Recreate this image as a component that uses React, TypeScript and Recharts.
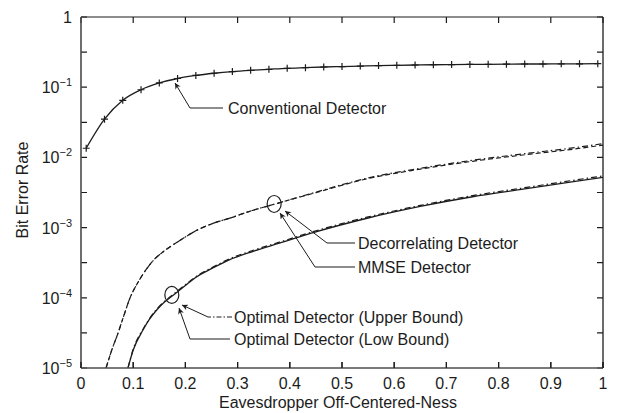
import { LineChart, Line, XAxis, YAxis, ReferenceDot, ReferenceLine } from 'recharts'

// values (x = off-centered-ness, y = BER)
const convX = [0.01, 0.045, 0.08, 0.115, 0.15, 0.185, 0.22, 0.255, 0.29, 0.325, 0.36, 0.395, 0.43, 0.465, 0.5, 0.535, 0.57, 0.605, 0.64, 0.675, 0.71, 0.745, 0.78, 0.815, 0.85, 0.885, 0.92, 0.955, 0.99]
const convY = [0.0135, 0.035, 0.065, 0.092, 0.115, 0.133, 0.147, 0.158, 0.167, 0.174, 0.18, 0.186, 0.19, 0.194, 0.197, 0.2, 0.203, 0.205, 0.207, 0.209, 0.21, 0.211, 0.212, 0.213, 0.214, 0.214, 0.215, 0.215, 0.216]

const decX = [0.048, 0.06, 0.07, 0.08, 0.094, 0.11, 0.126, 0.14, 0.157, 0.19, 0.22, 0.253, 0.29, 0.318, 0.37, 0.45, 0.55, 0.65, 0.75, 0.85, 0.95, 1.0]
const decY = [1e-5, 1.9e-5, 3e-5, 5e-5, 1e-4, 1.7e-4, 2.6e-4, 3.5e-4, 4.5e-4, 6.6e-4, 9e-4, 1.15e-3, 1.4e-3, 1.66e-3, 2.15e-3, 3.2e-3, 5.1e-3, 7e-3, 9.1e-3, 1.13e-2, 1.39e-2, 1.57e-2]
const mmseY = [1e-5, 1.9e-5, 3e-5, 5e-5, 1e-4, 1.7e-4, 2.6e-4, 3.5e-4, 4.5e-4, 6.6e-4, 9e-4, 1.15e-3, 1.4e-3, 1.66e-3, 2.15e-3, 3.15e-3, 5e-3, 6.8e-3, 8.8e-3, 1.09e-2, 1.33e-2, 1.5e-2]

const optX = [0.09, 0.1, 0.119, 0.13, 0.145, 0.16, 0.174, 0.2, 0.222, 0.25, 0.285, 0.33, 0.38, 0.45, 0.55, 0.65, 0.75, 0.85, 0.95, 1.0]
const optLowY = [1e-5, 1.8e-5, 3.5e-5, 4.8e-5, 6.7e-5, 8.7e-5, 1.05e-4, 1.5e-4, 2e-4, 2.6e-4, 3.5e-4, 4.6e-4, 6e-4, 8.7e-4, 1.37e-3, 2e-3, 2.75e-3, 3.55e-3, 4.6e-3, 5.2e-3]
const optUpY = [1e-5, 1.85e-5, 3.6e-5, 4.9e-5, 6.9e-5, 8.9e-5, 1.08e-4, 1.54e-4, 2.05e-4, 2.67e-4, 3.6e-4, 4.75e-4, 6.2e-4, 9e-4, 1.42e-3, 2.07e-3, 2.85e-3, 3.7e-3, 4.8e-3, 5.45e-3]

const xTicks = [0, 0.1, 0.2, 0.3, 0.4, 0.5, 0.6, 0.7, 0.8, 0.9, 1]
const xTickLabels = ['0', '0.1', '0.2', '0.3', '0.4', '0.5', '0.6', '0.7', '0.8', '0.9', '1']
const yTicks = [1e-5, 3.162e-5, 1e-4, 3.162e-4, 1e-3, 3.162e-3, 1e-2, 3.162e-2, 0.1, 0.3162, 1]
const yTickExps = ['-5', '', '-4', '', '-3', '', '-2', '', '-1', '', '']

const INK = '#1c1c1c'
const FONT = '"Liberation Sans", Arial, Helvetica, sans-serif'
const TICK = 6

const pts = (xs: number[], ys: number[]) => xs.map((x, i) => ({ x, y: ys[i] }))

function LeftTick(props: any) {
  const { x, y, payload } = props
  const i = yTicks.indexOf(payload.value)
  const exp = yTickExps[i]
  if (i === yTicks.length - 1) {
    return <text x={x - 9} y={y + 6} textAnchor="end" fontSize={16} fill={INK} fontFamily={FONT}>1</text>
  }
  if (!exp) return <g />
  return (
    <text x={x - 9} y={y + 6} textAnchor="end" fontSize={16} fill={INK} fontFamily={FONT}>
      10<tspan dy={-7} fontSize={11}>{exp.replace('-', '\u2212')}</tspan>
    </text>
  )
}

function BottomTick(props: any) {
  const { x, y, payload } = props
  const i = xTicks.indexOf(payload.value)
  return (
    <g>
      <line x1={x} y1={y} x2={x} y2={y - TICK} stroke={INK} strokeWidth={1.2} />
      <text x={x} y={y + 21} textAnchor="middle" fontSize={16} fill={INK} fontFamily={FONT}>{xTickLabels[i]}</text>
    </g>
  )
}

// inward tick marks at both ends of a grid position (MATLAB box style)
const vTicks = (p: any) => (
  <path d={`M${p.x1},${Math.min(p.y1, p.y2)}v${TICK}M${p.x1},${Math.max(p.y1, p.y2)}v${-TICK}`} stroke={INK} strokeWidth={1.2} fill="none" />
)
const hTicks = (p: any) => (
  <path d={`M${Math.min(p.x1, p.x2)},${p.y1}h${TICK}M${Math.max(p.x1, p.x2)},${p.y1}h${-TICK}`} stroke={INK} strokeWidth={1.2} fill="none" />
)

function PlusDot(props: any) {
  const { cx, cy, index } = props
  return <path key={index} d={`M${cx - 3.5},${cy}h7M${cx},${cy - 3.5}v7`} stroke={INK} strokeWidth={1.2} />
}

const ring = (props: any) => (
  <ellipse cx={props.cx} cy={props.cy} rx={7} ry={8.5} fill="none" stroke={INK} strokeWidth={1.2} />
)

const txt = { fontSize: 16, fill: INK, fontFamily: FONT }

export default function App() {
  return (
    <div style={{ position: 'absolute', left: 0, top: 0, width: 619, height: 413, background: '#fff' }}>
      {/* annotation layer sits underneath the chart */}
      <svg width={619} height={413} style={{ position: 'absolute', left: 0, top: 0, pointerEvents: 'none' }}>
        <defs>
          <marker id="arr" viewBox="0 0 10 10" refX="10" refY="5" markerWidth="10" markerHeight="6"
            markerUnits="userSpaceOnUse" orient="auto">
            <path d="M0,0 L10,5 L0,10 L3,5 z" fill={INK} />
          </marker>
        </defs>
        <g fill="none" stroke={INK} strokeWidth={1}>
          <polyline points="223,108 190,108 175,83" markerEnd="url(#arr)" />
          <polyline points="355,243 327,243 285,211" markerEnd="url(#arr)" />
          <polyline points="355,267 315,267 280,213" markerEnd="url(#arr)" />
          <line x1={232} y1={317} x2={208} y2={317} strokeDasharray="5 2 1.5 2" />
          <line x1={208} y1={317} x2={182} y2={305} markerEnd="url(#arr)" />
          <polyline points="230,339 190,339 179,308" markerEnd="url(#arr)" />
        </g>
        <text x={228} y={114} {...txt}>Conventional Detector</text>
        <text x={358} y={249} {...txt}>Decorrelating Detector</text>
        <text x={358} y={273} {...txt}>MMSE Detector</text>
        <text x={234} y={323} {...txt}>Optimal Detector (Upper Bound)</text>
        <text x={234} y={345} {...txt}>Optimal Detector (Low Bound)</text>
        <text x={338} y={408} textAnchor="middle" {...txt}>Eavesdropper Off-Centered-Ness</text>
        <text x={28} y={190} textAnchor="middle" transform="rotate(-90 28 190)" {...txt}>Bit Error Rate</text>
      </svg>

      <LineChart width={619} height={413} margin={{ top: 17, right: 16, left: 0, bottom: 0 }}>
        <XAxis xAxisId="b" type="number" dataKey="x" domain={[0, 1]} ticks={xTicks} height={45}
          tickSize={0} tickMargin={0} tickLine={false} tick={<BottomTick />} allowDataOverflow />
        <YAxis yAxisId="l" scale="log" type="number" domain={[1e-5, 1]} ticks={yTicks} width={81}
          tickSize={0} tickMargin={0} tickLine={false} tick={<LeftTick />} allowDataOverflow />

        <ReferenceLine xAxisId="b" yAxisId="l" x={1} stroke={INK} strokeWidth={1.3} />
        <ReferenceLine xAxisId="b" yAxisId="l" y={1} stroke={INK} strokeWidth={1.2} />
        <ReferenceLine xAxisId="b" yAxisId="l" x={0} stroke={INK} strokeWidth={1.2} />
        <ReferenceLine xAxisId="b" yAxisId="l" y={1e-5} stroke={INK} strokeWidth={1.2} />
        {xTicks.map((v) => (
          <ReferenceLine key={`xt${v}`} xAxisId="b" yAxisId="l" x={v} shape={vTicks} />
        ))}
        {yTicks.map((v) => (
          <ReferenceLine key={`yt${v}`} xAxisId="b" yAxisId="l" y={v} shape={hTicks} />
        ))}

        <Line xAxisId="b" yAxisId="l" type="monotone" data={pts(convX, convY)} dataKey="y" stroke={INK} strokeWidth={1.3}
          dot={PlusDot} isAnimationActive={false} />
        <Line xAxisId="b" yAxisId="l" type="monotone" data={pts(decX, mmseY)} dataKey="y" stroke={INK} strokeWidth={1.2}
          strokeDasharray="5 3" dot={false} isAnimationActive={false} />
        <Line xAxisId="b" yAxisId="l" type="monotone" data={pts(decX, decY)} dataKey="y" stroke={INK} strokeWidth={1.2}
          strokeDasharray="6 3 1.5 3" dot={false} isAnimationActive={false} />
        <Line xAxisId="b" yAxisId="l" type="monotone" data={pts(optX, optUpY)} dataKey="y" stroke={INK} strokeWidth={1.2}
          strokeDasharray="6 3 1.5 3" dot={false} isAnimationActive={false} />
        <Line xAxisId="b" yAxisId="l" type="monotone" data={pts(optX, optLowY)} dataKey="y" stroke={INK} strokeWidth={1.3}
          dot={false} isAnimationActive={false} />

        <ReferenceDot xAxisId="b" yAxisId="l" x={0.37} y={2.17e-3} r={8} shape={ring} />
        <ReferenceDot xAxisId="b" yAxisId="l" x={0.174} y={1.1e-4} r={8} shape={ring} />
      </LineChart>
    </div>
  )
}
